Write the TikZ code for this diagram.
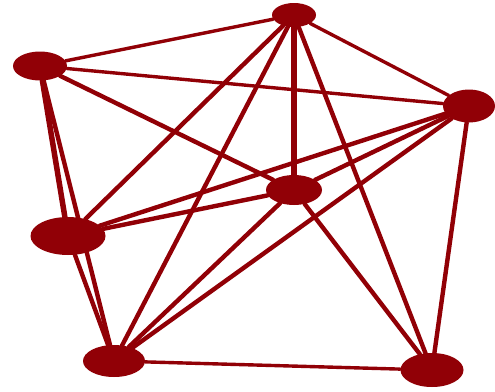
\documentclass[tikz,border=0pt]{standalone}
\usepackage{xcolor}
\definecolor{gdarkred}{RGB}{145,0,6}
\usetikzlibrary{shapes.geometric}
\tikzset{
  vnode/.style={ellipse, fill=gdarkred, inner sep=0pt},
  link/.style={draw=gdarkred, line width=4.4pt, line cap=round},
  thinlink/.style={draw=gdarkred, line width=3.4pt, line cap=round},
}

\begin{document}
\begin{tikzpicture}[x=1pt, y=-1pt]
\useasboundingbox (0,0) rectangle (495,391);

% Vertices
\node[vnode, minimum width=44pt, minimum height=24pt] (top)   at (294,15)  {};
\node[vnode, minimum width=54pt, minimum height=29pt] (ltop)  at (40,66)   {};
\node[vnode, minimum width=52pt, minimum height=33pt] (right) at (469,106) {};
\node[vnode, minimum width=56pt, minimum height=30pt] (mid)   at (294,190) {};
\node[vnode, minimum width=75pt, minimum height=38pt] (lmid)  at (68,236)  {};
\node[vnode, minimum width=62pt, minimum height=32pt] (lbot)  at (114,361) {};
\node[vnode, minimum width=63pt, minimum height=34pt] (rbot)  at (432,370) {};

% Edges
\foreach \a/\b in {top/lmid, top/lbot, top/rbot,
                   right/lmid, right/mid, right/lbot, right/rbot,
                   mid/lmid, mid/lbot, mid/rbot, ltop/mid,
                   ltop/lbot, lmid/lbot}
  \draw[link] (\a) -- (\b);
\draw[link, line width=5.5pt] (ltop) -- (lmid);
\draw[link, line width=5.5pt] (top) -- (mid);
\foreach \a/\b in {top/ltop, top/right, ltop/right, lbot/rbot}
  \draw[thinlink] (\a) -- (\b);
\end{tikzpicture}
\end{document}
